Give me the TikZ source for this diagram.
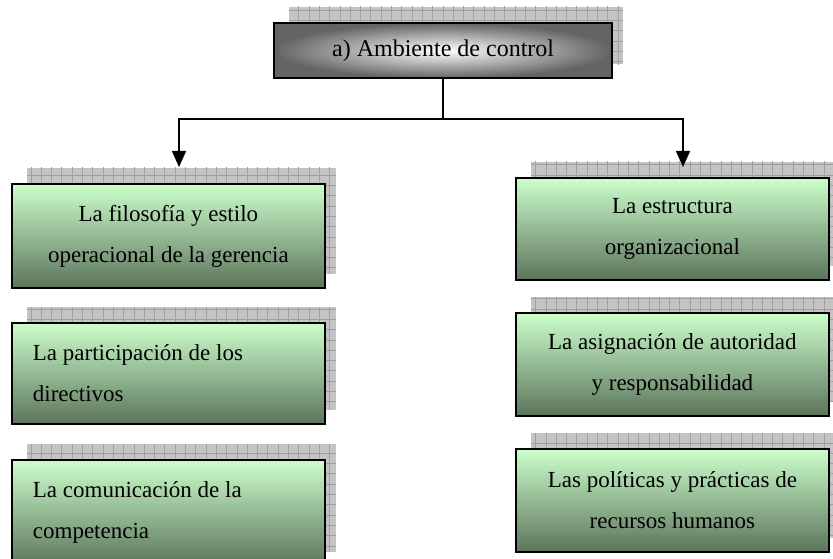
\documentclass[tikz,border=0pt]{standalone}
\usepackage{fontspec}
\setmainfont{Liberation Serif}
\usetikzlibrary{arrows.meta,calc}
\definecolor{shfill}{RGB}{196,196,196}
\definecolor{shline}{RGB}{160,160,160}
\definecolor{gtop}{RGB}{204,255,204}
\definecolor{gbot}{RGB}{92,116,92}
\definecolor{topouter}{RGB}{100,100,100}
\pgfdeclarelayer{bg}
\pgfsetlayers{bg,main}
\newcommand\boxshadow[1]{%
  \begin{scope}
    \clip ([xshift=16pt,yshift=15pt]#1.north west) rectangle ([xshift=10pt,yshift=15pt]#1.south east);
    \fill[shfill] ([xshift=16pt,yshift=15pt]#1.north west) rectangle ([xshift=10pt,yshift=15pt]#1.south east);
    \draw[shline, line width=0.8pt, step=10.3pt] (0,0) grid (850,580);
  \end{scope}}
\tikzset{
  gbox/.style={draw=black, line width=1.8pt, top color=gtop, bottom color=gbot,
    minimum width=313pt, anchor=north west, inner sep=0pt,
    font=\fontsize{23}{41}\selectfont, align=flush center, text width=300pt},
  gboxleft/.style={gbox, align=flush left, text width=271pt},
  topbox/.style={draw=black, line width=2.2pt, inner color=white, outer color=topouter,
    minimum width=338pt, minimum height=55pt, anchor=north west, inner sep=0pt,
    font=\fontsize{24}{28}\selectfont},
  arr/.style={line width=1.5pt, -{Triangle[width=14pt,length=16pt]}},
  conn/.style={line width=1.5pt}
}
\begin{document}
\begin{tikzpicture}[x=1pt,y=-1pt]
\useasboundingbox (0,0) rectangle (833,559);
% top
\node[topbox] (top) at (273,22) {a) Ambiente de control};
% left column
\node[gbox, minimum height=104pt] (l1) at (11,183) {La filosofía y estilo\\operacional de la gerencia};
\node[gboxleft, minimum height=101pt] (l2) at (11,322) {La participación de los\\directivos};
\node[gboxleft, minimum height=106pt] (l3) at (11,459) {La comunicación de la\\competencia};
% right column
\node[gbox, minimum height=102pt] (r1) at (515,177) {La estructura\\organizacional};
\node[gbox, minimum height=103pt] (r2) at (515,312) {La asignación de autoridad\\y responsabilidad};
\node[gbox, minimum height=103pt] (r3) at (515,448) {Las políticas y prácticas de\\recursos humanos};
\begin{pgfonlayer}{bg}
\boxshadow{top}
\boxshadow{l1}\boxshadow{l2}\boxshadow{l3}
\boxshadow{r1}\boxshadow{r2}\boxshadow{r3}
\end{pgfonlayer}
% connectors
\coordinate (hy) at (0,119);
\coordinate (j) at (top.south |- hy);
\coordinate (lt) at (179,167);
\coordinate (rt) at (683,167);
\draw[conn] (top.south) -- (j);
\draw[arr] (j) -| (lt);
\draw[arr] (j) -| (rt);
\end{tikzpicture}
\end{document}
